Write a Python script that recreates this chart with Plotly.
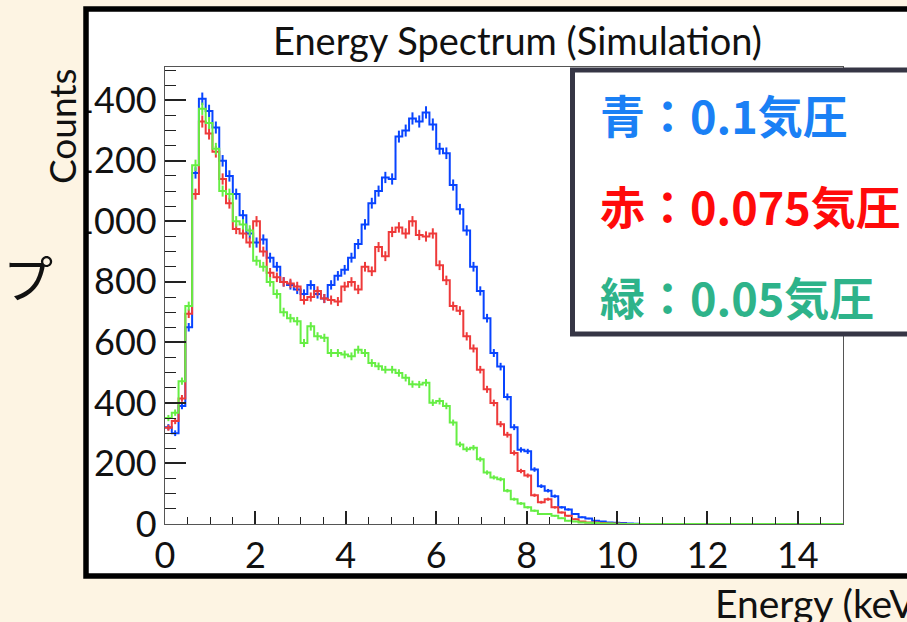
import numpy as np
import plotly.graph_objects as go

# ---- data ----
N_BINS = 100
X_MIN, X_MAX = 0.0, 15.0

blue_counts = [320, 300, 390, 650, 1160, 1405, 1365, 1310, 1200, 1150,
               1090, 1020, 960, 930, 940, 880, 850, 800, 790, 775,
               760, 790, 760, 745, 790, 820, 840, 880, 925, 990,
               1060, 1100, 1145, 1140, 1280, 1300, 1340, 1330, 1360, 1320,
               1240, 1225, 1120, 1040, 970, 850, 770, 680, 565, 520,
               420, 320, 245, 240, 180, 125, 110, 92, 55, 48,
               33, 22, 18, 11, 8, 5, 4, 3, 2, 1] + [0] * 30

red_counts = [318, 340, 415, 695, 1090, 1330, 1290, 1230, 1140, 1060,
              975, 960, 930, 1000, 900, 830, 815, 800, 795, 785,
              740, 750, 770, 745, 740, 735, 785, 800, 775, 850,
              835, 915, 885, 965, 980, 960, 1000, 955, 950, 960,
              855, 805, 720, 705, 620, 580, 510, 445, 400, 330,
              295, 235, 175, 160, 95, 72, 82, 55, 38, 27,
              16, 8, 5, 5, 3, 2, 2, 1, 0, 0] + [0] * 30

green_counts = [350, 368, 472, 720, 1185, 1372, 1325, 1240, 1100, 1090,
                1000, 990, 970, 870, 850, 800, 760, 700, 680, 670,
                598, 653, 620, 615, 565, 565, 560, 554, 576, 565,
                532, 521, 510, 510, 499, 483, 462, 461, 467, 401,
                406, 390, 335, 263, 247, 252, 214, 170, 154, 148,
                110, 82, 68, 55, 44, 33, 33, 27, 19, 11,
                8, 5, 4, 3, 2, 2, 1, 0, 0, 0] + [0] * 30

series_names = ["0.1 atm", "0.075 atm", "0.05 atm"]
legend_lines = ["青：0.1気圧", "赤：0.075気圧", "緑：0.05気圧"]
x_tick_vals = [0, 2, 4, 6, 8, 10, 12, 14]
y_tick_vals = [0, 200, 400, 600, 800, 1000, 1200, 1400]
title_text = "Energy Spectrum (Simulation)"
x_title = "Energy (keV)"
y_title = "Counts"

# ---- styling ----
W, H = 907, 622
L, R, T, B = 165, 843, 67, 524  # plot frame in pixels
CREAM = "#fdf4e3"
line_colors = ["#0844ff", "#ee3a3a", "#66ee44"]
text_colors = ["#1a80f5", "#ff0a0a", "#2eb38a"]
ERR_SCALE = 0.55

edges = np.linspace(X_MIN, X_MAX, N_BINS + 1)
centers = 0.5 * (edges[:-1] + edges[1:])


def px(xpix):
    return (xpix - L) / (R - L)


def py(ypix):
    return (B - ypix) / (B - T)


fig = go.Figure()
for counts, name, col in zip([blue_counts, red_counts, green_counts], series_names, line_colors):
    c = np.array(counts, dtype=float)
    fig.add_trace(go.Scatter(
        x=edges, y=np.append(c, c[-1]), mode="lines", line=dict(color=col, width=2, shape="hv"),
        name=name, showlegend=False, hoverinfo="skip"))
    fig.add_trace(go.Scatter(
        x=centers, y=c, mode="markers", marker=dict(size=1, color=col),
        error_y=dict(type="data", array=np.sqrt(c) * ERR_SCALE, color=col, thickness=2, width=0),
        showlegend=False, hoverinfo="skip"))

font_main = "Lato, Noto Sans, sans-serif"
fig.update_layout(
    width=W, height=H,
    margin=dict(l=L, r=W - R, t=T, b=H - B, pad=0),
    paper_bgcolor=CREAM, plot_bgcolor="white",
    showlegend=False,
    xaxis=dict(range=[X_MIN, X_MAX], tickvals=x_tick_vals, ticks="inside", ticklen=13,
               tickwidth=1.5, tickcolor="#222", showgrid=False, zeroline=False,
               showline=True, linecolor="#555", linewidth=1.2, mirror=True,
               tickfont=dict(family=font_main, size=36, color="#111"),
               minor=dict(dtick=0.5, ticks="inside", ticklen=6.5, tickwidth=1.2, tickcolor="#222",
                          showgrid=False),
               automargin=False, fixedrange=True),
    yaxis=dict(range=[0, 1510], tickvals=y_tick_vals, ticks="inside", ticklen=21,
               tickwidth=1.5, tickcolor="#222", showgrid=False, zeroline=False,
               showline=True, linecolor="#555", linewidth=1.2, mirror=True,
               tickfont=dict(family=font_main, size=36, color="#111"),
               ticklabelstandoff=0,
               minor=dict(dtick=50, ticks="inside", ticklen=11, tickwidth=1.2, tickcolor="#222",
                          showgrid=False),
               automargin=False, fixedrange=True),
)

shapes = []
# white canvas box (below)
shapes.append(dict(type="rect", xref="paper", yref="paper", layer="below",
                   x0=px(86), x1=px(940), y0=py(576), y1=py(9),
                   fillcolor="white", line=dict(width=0)))
# cream strip to the left of the canvas (hides overflowing label parts)
shapes.append(dict(type="rect", xref="paper", yref="paper", layer="above",
                   x0=px(-5), x1=px(86), y0=py(640), y1=py(-5),
                   fillcolor=CREAM, line=dict(width=0)))
# black border of the canvas
shapes.append(dict(type="rect", xref="paper", yref="paper", layer="above",
                   x0=px(86), x1=px(940), y0=py(576), y1=py(9),
                   fillcolor="rgba(0,0,0,0)", line=dict(color="black", width=5.5)))
# legend box
shapes.append(dict(type="rect", xref="paper", yref="paper", layer="above",
                   x0=px(572.5), x1=px(940), y0=py(334), y1=py(70),
                   fillcolor="white", line=dict(color="#363645", width=5)))
fig.update_layout(shapes=shapes)

ann = []
ann.append(dict(text=title_text, xref="paper", yref="paper", x=px(517), y=py(40),
                xanchor="center", yanchor="middle", showarrow=False,
                font=dict(family=font_main, size=38, color="#111")))
ann.append(dict(text=y_title, xref="paper", yref="paper", x=px(61), y=py(126),
                xanchor="center", yanchor="middle", textangle=-90, showarrow=False,
                font=dict(family=font_main, size=37, color="#111")))
ann.append(dict(text=x_title, xref="paper", yref="paper", x=px(713), y=py(603),
                xanchor="left", yanchor="middle", showarrow=False,
                font=dict(family=font_main, size=39, color="#111")))
ann.append(dict(text="プ", xref="paper", yref="paper", x=px(55), y=py(276),
                xanchor="right", yanchor="middle", showarrow=False,
                font=dict(family="Noto Sans CJK JP", size=50, color="#111")))
for txt, col, yc in zip(legend_lines, text_colors, [115, 206, 296]):
    ann.append(dict(text=txt, xref="paper", yref="paper", x=px(598), y=py(yc),
                    xanchor="left", yanchor="middle", showarrow=False,
                    font=dict(family="Noto Sans CJK JP", size=45, color=col, weight="bold")))
fig.update_layout(annotations=ann)

fig.write_html("out.html", config={"displayModeBar": False},
               post_script="document.body.style.margin='0px';document.body.style.overflow='hidden';")
